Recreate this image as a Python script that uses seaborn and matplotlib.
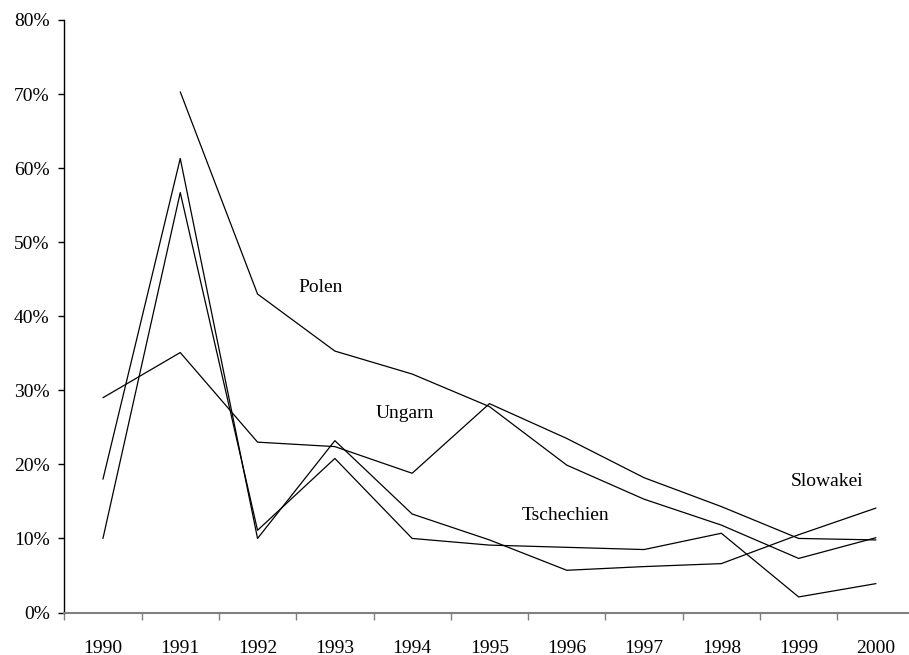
import matplotlib
matplotlib.use('Agg')
import matplotlib.pyplot as plt
import matplotlib.ticker as mticker
import seaborn as sns
import numpy as np
import pandas as pd

# inflation rates (%)
years = [1990, 1991, 1992, 1993, 1994, 1995, 1996, 1997, 1998, 1999, 2000]
polen = [np.nan, 70.3, 43.0, 35.3, 32.2, 27.8, 19.9, 15.3, 11.8, 7.3, 10.1]
ungarn = [29.0, 35.1, 23.0, 22.4, 18.8, 28.2, 23.5, 18.2, 14.3, 10.0, 9.8]
tschechien = [10.0, 56.7, 11.1, 20.8, 10.0, 9.1, 8.8, 8.5, 10.7, 2.1, 3.9]
slowakei = [18.0, 61.3, 10.0, 23.2, 13.3, 9.8, 5.7, 6.2, 6.6, 10.5, 14.1]

labels = ["Polen", "Ungarn", "Tschechien", "Slowakei"]
label_pos = [(320.8, 287.5), (404.7, 414), (565, 515), (827, 482)]  # pixel centres

frames = []
for name, vals in zip(labels, [polen, ungarn, tschechien, slowakei]):
    frames.append(pd.DataFrame({"Jahr": years, "Rate": vals, "Land": name}))
df = pd.concat(frames, ignore_index=True).dropna()

sns.set_style("white")
plt.rcParams['font.family'] = ['Liberation Serif', 'DejaVu Serif']
plt.rcParams['text.color'] = 'black'
plt.rcParams['xtick.color'] = 'black'
plt.rcParams['ytick.color'] = 'black'
fs = 14

W, H = 909, 655
fig = plt.figure(figsize=(W / 100, H / 100), dpi=100)
left, right = 64.3 / W, 1.0
bottom, top = 1 - 612.5 / H, 1 - 20 / H
ax = fig.add_axes([left, bottom, right - left, top - bottom])

for name in labels:
    sns.lineplot(data=df[df["Land"] == name], x="Jahr", y="Rate", color="black",
                 linewidth=0.9, ax=ax, legend=False, estimator=None)

x_right = 1989.5 + (W - 64.3) / 77.3
ax.set_xlim(1989.5, x_right)
ax.set_ylim(0, 80)

# major ticks between categories, labels at category centres
ax.xaxis.set_major_locator(mticker.FixedLocator(np.arange(1989.5, 2000.6, 1)))
ax.xaxis.set_major_formatter(mticker.NullFormatter())
ax.xaxis.set_minor_locator(mticker.FixedLocator(years))
ax.xaxis.set_minor_formatter(mticker.FixedFormatter([str(y) for y in years]))
ax.tick_params(axis='x', which='major', direction='out', length=5, width=1,
               color='#808080', bottom=True)
ax.tick_params(axis='x', which='minor', length=0, pad=19.5, labelsize=fs,
               labelcolor='black')

ax.set_yticks(np.arange(0, 81, 10))
ax.set_yticklabels([f"{v}%" for v in range(0, 81, 10)])
ax.tick_params(axis='y', direction='out', length=4.5, width=1, color='black',
               left=True, pad=6, labelsize=fs, labelcolor='black')

ax.set_xlabel("")
ax.set_ylabel("")
for s in ['top', 'right']:
    ax.spines[s].set_visible(False)
ax.spines['left'].set_color('black')
ax.spines['left'].set_linewidth(1)
ax.spines['bottom'].set_color('#808080')
ax.spines['bottom'].set_linewidth(1.5)

for name, (px, py) in zip(labels, label_pos):
    fig.text(px / W, 1 - py / H, name, ha='center', va='center', fontsize=fs,
             color='black')

fig.savefig("out.png", dpi=100)
